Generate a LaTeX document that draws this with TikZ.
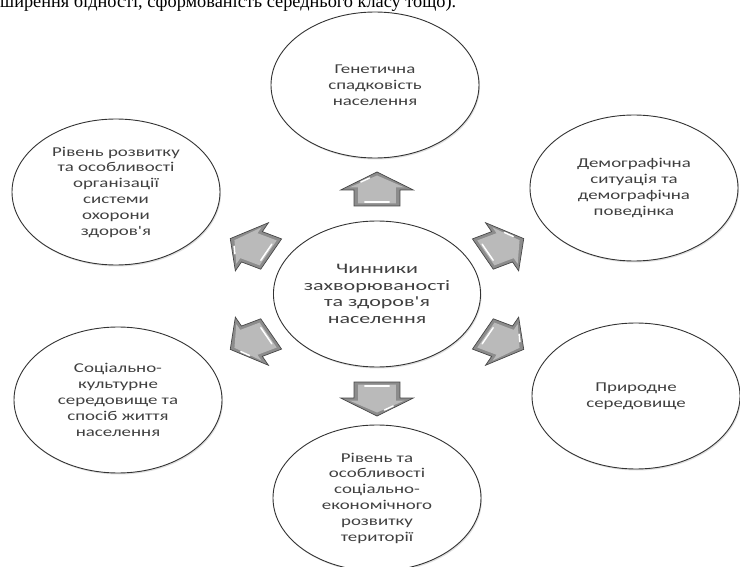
\documentclass[tikz,border=0pt]{standalone}
\usepackage{fontspec}
\usetikzlibrary{shapes.geometric,shadows}
\newfontfamily\dfont{Carlito}[FakeStretch=1.4]
\newfontfamily\hfont{Carlito}[FakeStretch=1.52]
\newfontfamily\tfont{Liberation Serif}
\begin{document}
\begin{tikzpicture}[x=1pt,y=-1pt,
  oval/.style={ellipse, draw=black!80, line width=0.9pt, fill=white,
    minimum width=208pt, minimum height=146pt, inner sep=0pt, align=center,
    font=\dfont\fontsize{13.5}{15.8}\selectfont, text=black!75,
    drop shadow={shadow xshift=1pt, shadow yshift=-1.5pt, opacity=0.25}},
  hub/.style={oval, minimum width=206pt, minimum height=146pt,
    font=\hfont\fontsize{14.5}{16.4}\selectfont},
  arrowbody/.style={fill=black!45, draw=black!72, line width=0.7pt, line join=miter},
  arrowbevel/.style={fill=black!27},
  arrowshine/.style={draw=white, line width=1.5pt, line cap=round}
  ]
\useasboundingbox (0,0) rectangle (740,567);
\clip (0,0) rectangle (740,567);
\fill[white] (0,0) rectangle (740,567);
\node[anchor=base west, font=\tfont\fontsize{18.3}{20}\selectfont, inner sep=0pt]
  (head) at (0,7.5) {ширення бідності, сформованість середнього класу тощо).};

\node[hub] (c) at (377,294) {Чинники\\захворюваності\\та здоров'я\\населення};
\node[oval] (t)  at (375,85)  {Генетична\\спадковість\\населення};
\node[oval] (ur) at (634,188) {Демографічна\\ситуація та\\демографічна\\поведінка};
\node[oval] (lr) at (636,396) {Природне\\середовище};
\node[oval] (b)  at (377,498) {Рівень та\\особливості\\соціально-\\економічного\\розвитку\\території};
\node[oval] (ll) at (118,400) {Соціально-\\культурне\\середовище та\\спосіб життя\\населення};
\node[oval] (ul) at (116,192) {Рівень розвитку\\та особливості\\організації\\системи\\охорони\\здоров'я};

\foreach \a in {90,27,-27,-90,-153,153}{
  \begin{scope}[shift={(c.center)}, xscale=1.35, rotate=\a, shift={(88,0)}]
    \filldraw[arrowbody] (0,-17) -- (16,-17) -- (16,-27) -- (34,0) -- (16,27) -- (16,17) -- (0,17) -- cycle;
    \fill[arrowbevel] (2.5,-14) -- (18.5,-14) -- (18.5,-20.5) -- (30.5,0) -- (18.5,20.5) -- (18.5,14) -- (2.5,14) -- cycle;
    \draw[arrowshine] (4,-9) -- (4,9);
    \draw[arrowshine] (24,-12) -- (28,-5.5);
  \end{scope}
}
\end{tikzpicture}
\end{document}
